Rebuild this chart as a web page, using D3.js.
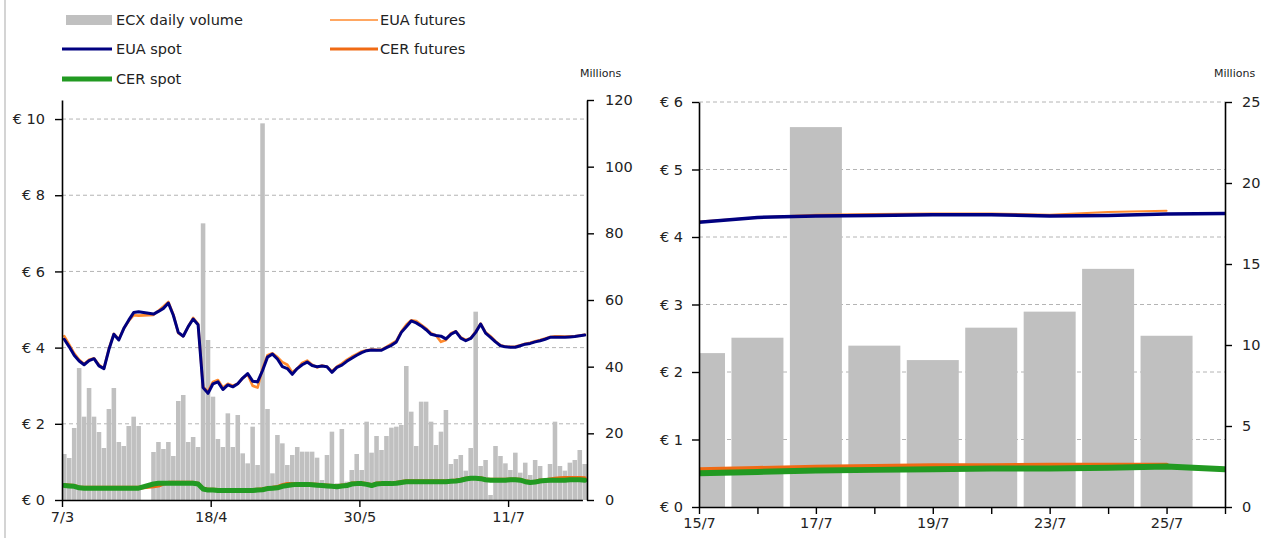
<!DOCTYPE html>
<html><head><meta charset="utf-8">
<script src="https://cdn.jsdelivr.net/npm/d3@7"></script>
<style>
body{margin:0;background:#fff}
text{font-family:"DejaVu Sans",Verdana,sans-serif;fill:#222}
</style></head>
<body><svg id="c" width="1270" height="538"></svg>
<script>
// ---------- DATA ----------
const leftDates = ["7/3","8/3","11/3","12/3","13/3","14/3","15/3","18/3","19/3","20/3","21/3","22/3","25/3","26/3","27/3","28/3","29/3",
"1/4","2/4","3/4","4/4","5/4","8/4","9/4","10/4","11/4","12/4","15/4","16/4","17/4","18/4","19/4","22/4","23/4","24/4","25/4","26/4","29/4","30/4",
"1/5","2/5","3/5","6/5","7/5","8/5","9/5","10/5","13/5","14/5","15/5","16/5","17/5","20/5","21/5","22/5","23/5","24/5","27/5","28/5","29/5","30/5","31/5",
"3/6","4/6","5/6","6/6","7/6","10/6","11/6","12/6","13/6","14/6","17/6","18/6","19/6","20/6","21/6","24/6","25/6","26/6","27/6","28/6",
"1/7","2/7","3/7","4/7","5/7","8/7","9/7","10/7","11/7","12/7","15/7","16/7","17/7","18/7","19/7","22/7","23/7","24/7","25/7","26/7","29/7","30/7","31/7",
"1/8"];
const leftTickLabels = ["7/3","18/4","30/5","11/7"];

const leftVolume = [13.8,12.6,21.6,39.6,25,33.6,25,20.4,15.6,27.3,
 33.6,17.4,16.2,22.2,25,22.2,null,null,14.4,17.4,
 15.3,17.4,13.2,29.7,31.5,17.4,18.9,15.9,83,48,
 31,18.3,15.9,26,15.9,25.5,14,11,22,10.5,
 113,27.3,8,19.5,17,10.5,13.5,15.9,14.5,14.5,
 14.5,12.7,6,13.5,20.5,5,21.3,5.5,9,13.8,
 9,23.5,14.2,19.2,15,19.2,21.7,22,22.5,40.2,
 26.5,16.2,29.5,29.5,23.5,16.5,20.5,27,10.8,12.3,
 13.5,8.8,15.6,56.5,10.2,12,1.5,16.2,13.2,11,
 9,14.2,8.2,11.2,7.5,12,10.2,6,10.8,23.5,
 10.2,8.8,11.2,12,15,10.8];

const leftEuaSpot = [4.22,4.02,3.8,3.65,3.55,3.66,3.71,3.52,3.45,3.95,
 4.35,4.2,4.5,4.72,4.92,4.94,null,null,4.88,4.95,
 5.03,5.17,4.85,4.4,4.3,4.55,4.75,4.6,2.95,2.8,
 3.05,3.1,2.9,3.02,2.97,3.05,3.2,3.32,3.12,3.1,
 3.4,3.75,3.83,3.7,3.5,3.45,3.3,3.45,3.55,3.62,
 3.53,3.5,3.52,3.5,3.35,3.48,3.54,3.64,3.72,3.8,
 3.87,3.92,3.94,3.93,3.93,4.0,4.06,4.15,4.4,4.55,
 4.7,4.65,4.57,4.47,4.35,4.32,4.3,4.23,4.35,4.42,
 4.25,4.18,4.24,4.4,4.62,4.38,4.27,4.15,4.05,4.02,
 4.01,4.01,4.05,4.09,4.11,4.15,4.18,4.22,4.27,4.27,
 4.27,4.27,4.28,4.29,4.31,4.33];

const leftEuaFutures = [4.3,4.08,3.85,3.68,3.57,3.68,3.72,3.55,3.45,3.97,
 4.36,4.22,4.5,4.7,4.85,4.84,null,null,4.86,4.97,
 5.08,5.2,4.87,4.38,4.3,4.55,4.78,4.62,2.97,2.85,
 3.1,3.15,2.95,3.05,3.0,3.05,3.2,3.3,3.0,2.95,
 3.45,3.8,3.85,3.75,3.62,3.55,3.35,3.45,3.6,3.66,
 3.55,3.48,3.53,3.5,3.38,3.5,3.58,3.68,3.76,3.83,
 3.9,3.93,3.95,3.94,3.95,4.02,4.1,4.18,4.42,4.6,
 4.72,4.7,4.6,4.5,4.38,4.32,4.15,4.2,4.38,4.43,
 4.27,4.2,4.25,4.42,4.63,4.4,4.3,4.17,4.06,4.03,
 4.02,4.03,4.06,4.1,4.13,4.17,4.2,4.24,4.28,4.3,
 4.3,4.29,4.3,4.3,4.32,4.34];

const leftCerFutures = [0.39,0.38,0.37,0.33,0.32,0.32,0.32,0.32,0.32,0.32,
 0.32,0.32,0.32,0.32,0.32,0.32,null,null,0.36,0.38,
 0.43,0.45,0.45,0.45,0.45,0.45,0.45,0.43,0.3,0.27,
 0.27,0.26,0.26,0.26,0.26,0.26,0.26,0.26,0.26,0.27,
 0.28,0.31,0.32,0.34,0.39,0.42,0.42,0.42,0.42,0.42,
 0.41,0.4,0.39,0.38,0.37,0.36,0.38,0.39,0.43,0.44,
 0.44,0.42,0.39,0.43,0.44,0.44,0.44,0.45,0.47,0.49,
 0.49,0.49,0.49,0.49,0.49,0.49,0.49,0.49,0.5,0.51,
 0.53,0.56,0.58,0.58,0.57,0.54,0.53,0.53,0.53,0.53,
 0.54,0.54,0.53,0.49,0.47,0.48,0.51,0.52,0.54,0.56,
 0.57,0.58,0.58,0.58,0.58,0.57];

const leftCerSpot = [0.38,0.37,0.36,0.32,0.31,0.31,0.31,0.31,0.31,0.31,
 0.31,0.31,0.31,0.31,0.31,0.31,null,null,0.42,0.44,
 0.44,0.44,0.44,0.44,0.44,0.44,0.44,0.42,0.29,0.26,
 0.26,0.25,0.25,0.25,0.25,0.25,0.25,0.25,0.25,0.26,
 0.27,0.3,0.31,0.32,0.36,0.38,0.4,0.41,0.41,0.41,
 0.4,0.39,0.38,0.37,0.36,0.35,0.37,0.38,0.42,0.43,
 0.43,0.41,0.38,0.42,0.43,0.43,0.43,0.44,0.46,0.48,
 0.48,0.48,0.48,0.48,0.48,0.48,0.48,0.48,0.49,0.5,
 0.52,0.55,0.57,0.57,0.56,0.53,0.52,0.52,0.52,0.52,
 0.53,0.53,0.52,0.48,0.46,0.47,0.5,0.51,0.52,0.52,
 0.52,0.52,0.53,0.53,0.53,0.52];

const rightDates = ["15/7","16/7","17/7","18/7","19/7","22/7","23/7","24/7","25/7","26/7"];
const rightTickLabels = ["15/7","17/7","19/7","23/7","25/7"];
const rightVolume = [9.5,10.45,23.45,9.96,9.07,11.07,12.06,14.7,10.57,null];
const rightEuaSpot = [4.22,4.29,4.31,4.32,4.33,4.33,4.31,4.32,4.34,4.35];
const rightEuaFutures = [4.23,4.29,4.33,4.34,4.35,4.35,4.33,4.37,4.39,null];
const rightCerFutures = [0.55,0.57,0.59,0.6,0.61,0.61,0.62,0.62,0.62,null];
const rightCerSpot = [0.5,0.52,0.54,0.55,0.56,0.57,0.57,0.58,0.6,0.56];

const leftPriceTicks = [0,2,4,6,8,10];
const leftVolTicks = [0,20,40,60,80,100,120];
const rightPriceTicks = [0,1,2,3,4,5,6];
const rightVolTicks = [0,5,10,15,20,25];

// ---------- STYLE ----------
const C = {bar:"#c0c0c0", euaSpot:"#000080", euaFut:"#ff8a2e", cerFut:"#f06a14", cerSpot:"#229a22", grid:"#b4b4b4"};
const FS = 14.5;

const svg = d3.select("#c");
svg.append("line").attr("x1",5).attr("x2",5).attr("y1",0).attr("y2",538).attr("stroke","#d4d4d4").attr("stroke-width",2);

function series(dates, vals){ return dates.map((d,i)=>({d, v:vals[i]})).filter(o=>o.v!=null); }

function styleAxis(g){
  g.selectAll(".domain").attr("stroke","#000").attr("stroke-width",1.6);
  g.selectAll(".tick line").attr("stroke","#000").attr("stroke-width",1.4);
  g.selectAll(".tick text").style("font-size",FS+"px").attr("fill","#222");
}

function panel(o){
  const g = svg.append("g");
  const [x0,x1] = o.xr, [yb,yt] = o.yr;
  const yP = d3.scaleLinear().domain(o.pDom).range([yb,yt]);
  const yV = d3.scaleLinear().domain(o.vDom).range([yb,yt]);
  const clipId = "clip"+o.id;
  svg.append("clipPath").attr("id",clipId).append("rect").attr("x",x0).attr("y",yt-10).attr("width",x1-x0).attr("height",yb-yt+10);
  // grid
  g.append("g").selectAll("line").data(o.grid).join("line")
    .attr("x1",x0).attr("x2",x1).attr("y1",d=>yP(d)).attr("y2",d=>yP(d))
    .attr("stroke",C.grid).attr("stroke-width",1).attr("stroke-dasharray","4,3");
  // bars
  const cx = o.cx;
  g.append("g").attr("clip-path",`url(#${clipId})`).selectAll("rect")
    .data(series(o.dates,o.vol)).join("rect")
    .attr("x",d=>cx(d.d)-o.bw/2).attr("width",o.bw)
    .attr("y",d=>yV(d.v)).attr("height",d=>yb-yV(d.v)).attr("fill",C.bar);
  // lines
  const ln = d3.line().x(d=>cx(d.d)).y(d=>yP(d.v)).curve(d3.curveLinear);
  const lg = g.append("g").attr("clip-path",`url(#${clipId})`);
  o.lines.forEach(L=>{
    lg.append("path").datum(series(o.dates,L.vals)).attr("d",ln)
      .attr("fill","none").attr("stroke",L.c).attr("stroke-width",L.w)
      .attr("stroke-linejoin","round").attr("stroke-linecap","round");
  });
  // axes
  const aL = g.append("g").attr("transform",`translate(${x0},0)`)
    .call(d3.axisLeft(yP).tickValues(o.pTicks).tickFormat(d=>"€ "+d).tickSize(7).tickPadding(o.padL).tickSizeOuter(0));
  styleAxis(aL);
  const aR = g.append("g").attr("transform",`translate(${x1},0)`)
    .call(d3.axisRight(yV).tickValues(o.vTicks).tickSize(7).tickPadding(o.padR).tickSizeOuter(0));
  styleAxis(aR);
  const aB = g.append("g").attr("transform",`translate(0,${yb})`).call(o.xAxis);
  styleAxis(aB);
  g.append("text").attr("x",o.millX).attr("y",77).text("Millions").style("font-size","11px");
  return g;
}

// left panel
const xLB = d3.scaleBand().domain(leftDates).range([62,587]).paddingInner(0.08).paddingOuter(0);
const leftCx = d => xLB(d) + xLB.bandwidth()/2;
const leftAxisScale = d3.scalePoint().domain(leftDates).range([62, 62 + xLB.step()*(leftDates.length-1)]);
panel({
  id:"L", xr:[62,587], yr:[500,100], pDom:[0,10.5], vDom:[0,120],
  grid:[2,4,6,8,10], dates:leftDates, vol:leftVolume, cx:leftCx, bw:xLB.bandwidth(),
  lines:[
    {vals:leftEuaFutures,c:C.euaFut,w:2.6},
    {vals:leftEuaSpot,c:C.euaSpot,w:3},
    {vals:leftCerFutures,c:C.cerFut,w:4},
    {vals:leftCerSpot,c:C.cerSpot,w:5}
  ],
  pTicks:leftPriceTicks, vTicks:leftVolTicks, padL:10, padR:11,
  xAxis: d3.axisBottom(leftAxisScale).tickValues(leftTickLabels).tickSize(7).tickPadding(5).tickSizeOuter(0),
  millX:580
});

// right panel
const xRP = d3.scalePoint().domain(rightDates).range([699,1225]).padding(0);
panel({
  id:"R", xr:[699,1225], yr:[507,102], pDom:[0,6], vDom:[0,25],
  grid:[1,2,3,4,5,6], dates:rightDates, vol:rightVolume, cx:d=>xRP(d), bw:52,
  lines:[
    {vals:rightEuaFutures,c:C.euaFut,w:2},
    {vals:rightEuaSpot,c:C.euaSpot,w:3.5},
    {vals:rightCerFutures,c:C.cerFut,w:5},
    {vals:rightCerSpot,c:C.cerSpot,w:6}
  ],
  pTicks:rightPriceTicks, vTicks:rightVolTicks, padL:9, padR:10,
  xAxis: d3.axisBottom(xRP).tickSize(7).tickPadding(4).tickSizeOuter(0)
          .tickFormat(d=>rightTickLabels.includes(d)?d:""),
  millX:1214
});

// legend
const leg = svg.append("g");
const legendItems = [
  {name:"ECX daily volume", type:"bar", x:66, y:20, c:C.bar},
  {name:"EUA spot", type:"line", x:62, y:49, c:C.euaSpot, w:3},
  {name:"CER spot", type:"line", x:62, y:79, c:C.cerSpot, w:5},
  {name:"EUA futures", type:"line", x:330, y:20, c:C.euaFut, w:1.6},
  {name:"CER futures", type:"line", x:330, y:49, c:C.cerFut, w:3}
];
legendItems.forEach(it=>{
  if(it.type==="bar"){
    leg.append("rect").attr("x",it.x).attr("y",it.y-5).attr("width",46).attr("height",10).attr("fill",it.c);
  } else {
    leg.append("line").attr("x1",it.x).attr("x2",it.x+(it.x<100?50:48)).attr("y1",it.y).attr("y2",it.y)
      .attr("stroke",it.c).attr("stroke-width",it.w);
  }
  leg.append("text").attr("x",it.x<100?116:380).attr("y",it.y).attr("dy","0.35em")
    .text(it.name).style("font-size",FS+"px");
});
</script>
</body></html>
